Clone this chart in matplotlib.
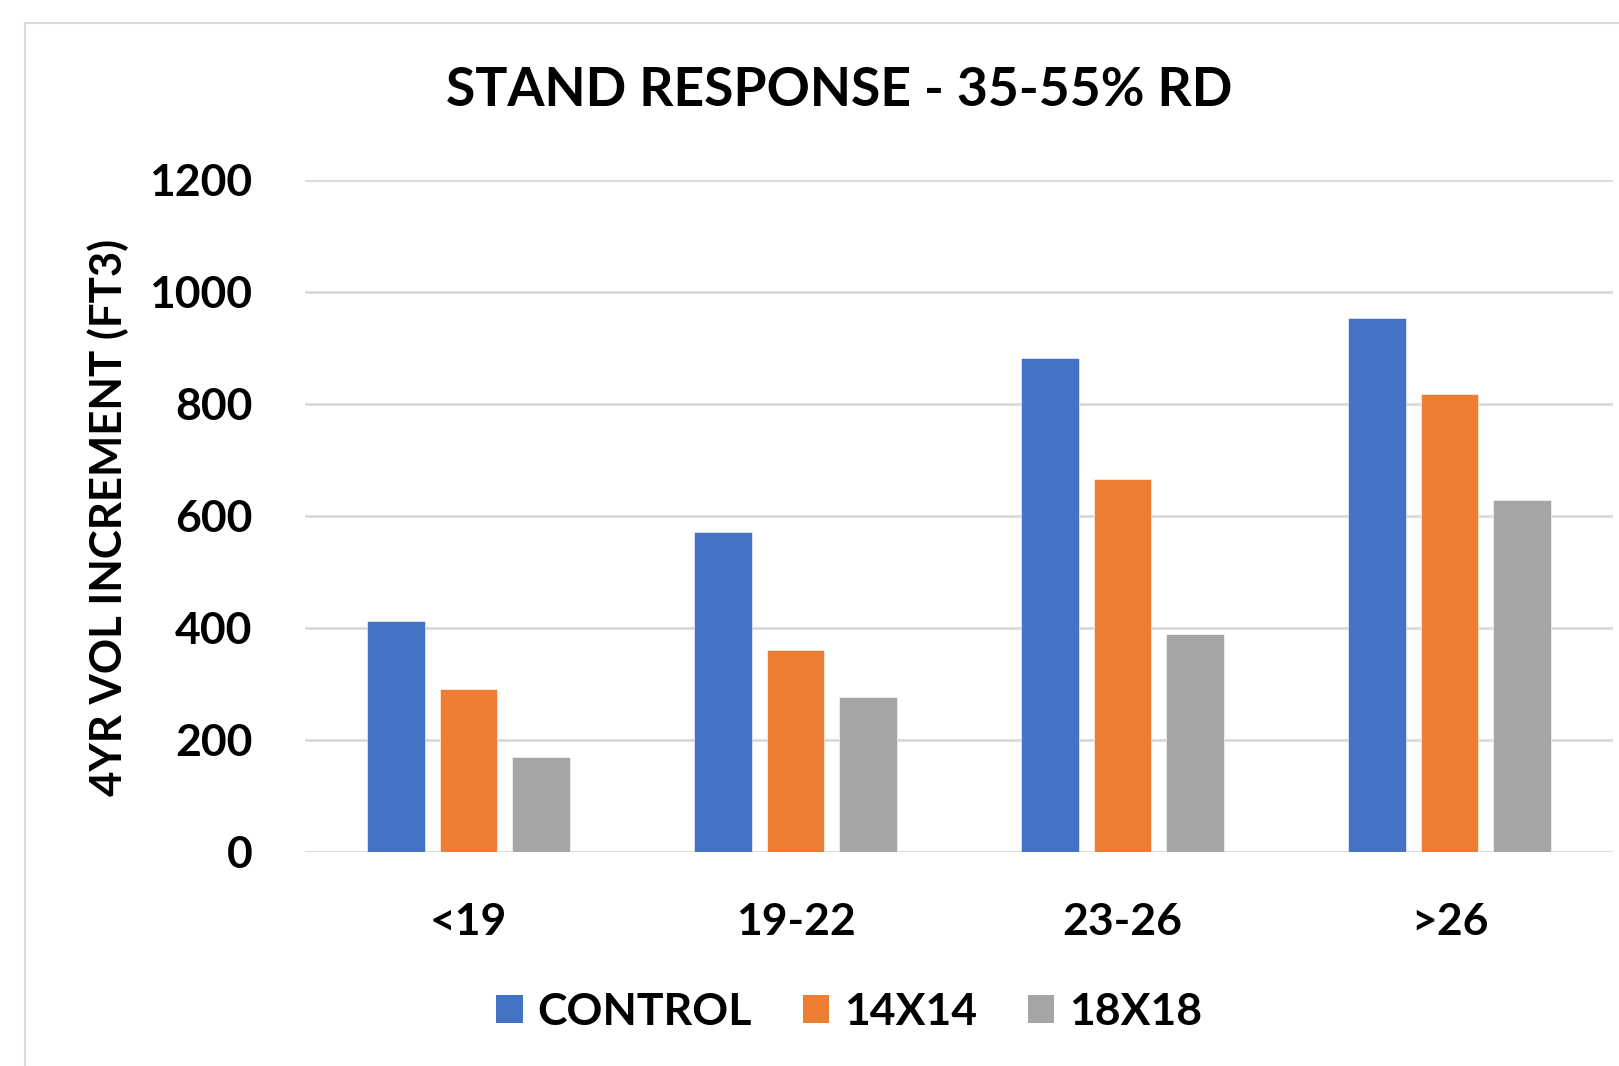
import matplotlib
matplotlib.use('Agg')
import matplotlib.pyplot as plt
from matplotlib.patches import Patch, Rectangle
import numpy as np

plt.rcParams['font.family'] = ['Lato', 'DejaVu Sans']
plt.rcParams['font.weight'] = 'bold'

categories = ['<19', '19-22', '23-26', '>26']
series_names = ['CONTROL', '14X14', '18X18']
control = [412, 572, 883, 953]
x14 = [291, 361, 666, 818]
x18 = [169, 276, 389, 628]
colors = ['#4472C4', '#ED7D31', '#A5A5A5']
yticks = [0, 200, 400, 600, 800, 1000, 1200]

W, H = 1619, 1066
fig = plt.figure(figsize=(W / 100, H / 100), dpi=100)

# light chart-area frame (only left and top visible)
fig.patches.append(Rectangle((25 / W, -0.1), 1.2, 1 - 23 / H + 0.1,
                             transform=fig.transFigure, fill=False,
                             edgecolor='#d9d9d9', linewidth=1.5))

ax = fig.add_axes([305 / W, 1 - 852 / H, (1613 - 305) / W, (852 - 180) / H])
x = np.arange(len(categories))
width = 0.177
step = 0.221
for i, (vals, name) in enumerate(zip([control, x14, x18], series_names)):
    ax.bar(x + (i - 1) * step, vals, width, color=colors[i], label=name,
           edgecolor='white', linewidth=0.4, zorder=3)

ax.set_xlim(-0.5, len(categories) - 0.5)
ax.set_ylim(0, 1200)
ax.set_yticks(yticks)
ax.set_xticks(x)
ax.set_xticklabels(categories)
ax.grid(axis='y', color='#d9d9d9', linewidth=2, zorder=0)
ax.set_axisbelow(True)
for s in ax.spines.values():
    s.set_visible(False)
ax.tick_params(axis='both', length=0, labelsize=32, labelcolor='black')
ax.tick_params(axis='y', pad=38)
ax.tick_params(axis='x', pad=36)

fig.text(108 / W, 1 - 517 / H, '4YR VOL INCREMENT (FT3)', fontsize=31.5,
         fontweight='bold', rotation=90, ha='center', va='center')

fig.text(839 / W, 1 - 91 / H, 'STAND RESPONSE - 35-55% RD', fontsize=38.5,
         fontweight='bold', ha='center', va='center')

handles = [Patch(facecolor=c, edgecolor='none') for c in colors]
fig.legend(handles, series_names, loc='center', ncol=3,
           bbox_to_anchor=(849 / W, 1 - 1012 / H), frameon=False,
           fontsize=32, handlelength=0.6, handleheight=0.6,
           handletextpad=0.32, columnspacing=1.15)

fig.savefig('out.png', dpi=100, facecolor='white')
